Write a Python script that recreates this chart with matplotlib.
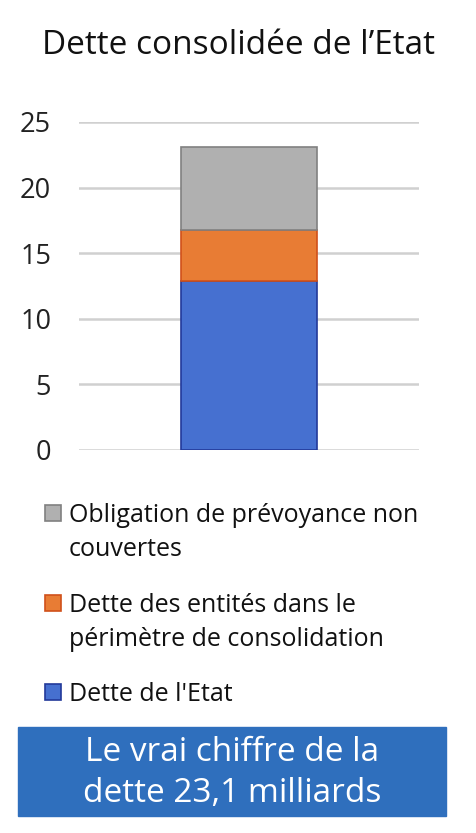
import matplotlib.pyplot as plt
from matplotlib.patches import Rectangle

# Données (milliards)
categorie = ['']
dette_etat = [12.9]
dette_entites = [3.9]
obligations = [6.3]
labels = ["Dette de l'Etat",
          "Dette des entités dans le\npérimètre de consolidation",
          "Obligation de prévoyance non\ncouvertes"]
couleurs = ['#4670D0', '#E87C34', '#B0B0B0']
bords = ['#23399A', '#D0501A', '#808080']

plt.rcParams['font.family'] = ['Open Sans', 'DejaVu Sans']

W, H = 477, 833
fig = plt.figure(figsize=(W / 100, H / 100), dpi=100)
ax = fig.add_axes([79 / W, 383 / H, 340 / W, 328 / H])

bas = [0]
for valeurs, c, b, lab in zip([dette_etat, dette_entites, obligations], couleurs, bords, labels):
    ax.bar(categorie, valeurs, bottom=bas, width=0.4, color=c, edgecolor=b,
           linewidth=1.2, label=lab, zorder=3)
    bas = [x + y for x, y in zip(bas, valeurs)]

ax.set_xlim(-0.5, 0.5)
ax.set_ylim(0, 25)
ax.set_yticks([0, 5, 10, 15, 20, 25])
ax.grid(axis='y', color='#D0D0D0', linewidth=1.8, zorder=0)
ax.tick_params(axis='y', length=0, pad=20, labelsize=19.5, labelcolor='#222222')
ax.tick_params(axis='x', length=0, labelbottom=False)
for s in ax.spines.values():
    s.set_visible(False)

fig.text(0.5, 1 - 45 / H, "Dette consolidée de l’Etat", ha='center', va='center',
         fontsize=24, color='#111111')

# légende : carré aligné sur la première ligne du libellé
y_lignes = [513, 603, 692]
for y, lab, c, b in zip(y_lignes, labels[::-1], couleurs[::-1], bords[::-1]):
    fig.patches.append(Rectangle((45 / W, 1 - (y + 8) / H), 16 / W, 16 / H,
                                 transform=fig.transFigure, facecolor=c,
                                 edgecolor=b, linewidth=1.2))
    fig.text(69 / W, 1 - (y - 10) / H, lab, ha='left', va='top', fontsize=18,
             color='#111111', linespacing=1.45)

fig.patches.append(Rectangle((18 / W, 17 / H), 428 / W, 89 / H,
                             transform=fig.transFigure, facecolor='#2F6FBD',
                             edgecolor='#2F6FBD', zorder=1))
fig.text(232 / W, 1 - 773 / H, "Le vrai chiffre de la\ndette 23,1 milliards",
         ha='center', va='center', color='white', fontsize=24, linespacing=1.3, zorder=2)

fig.savefig('out.png', dpi=100)
